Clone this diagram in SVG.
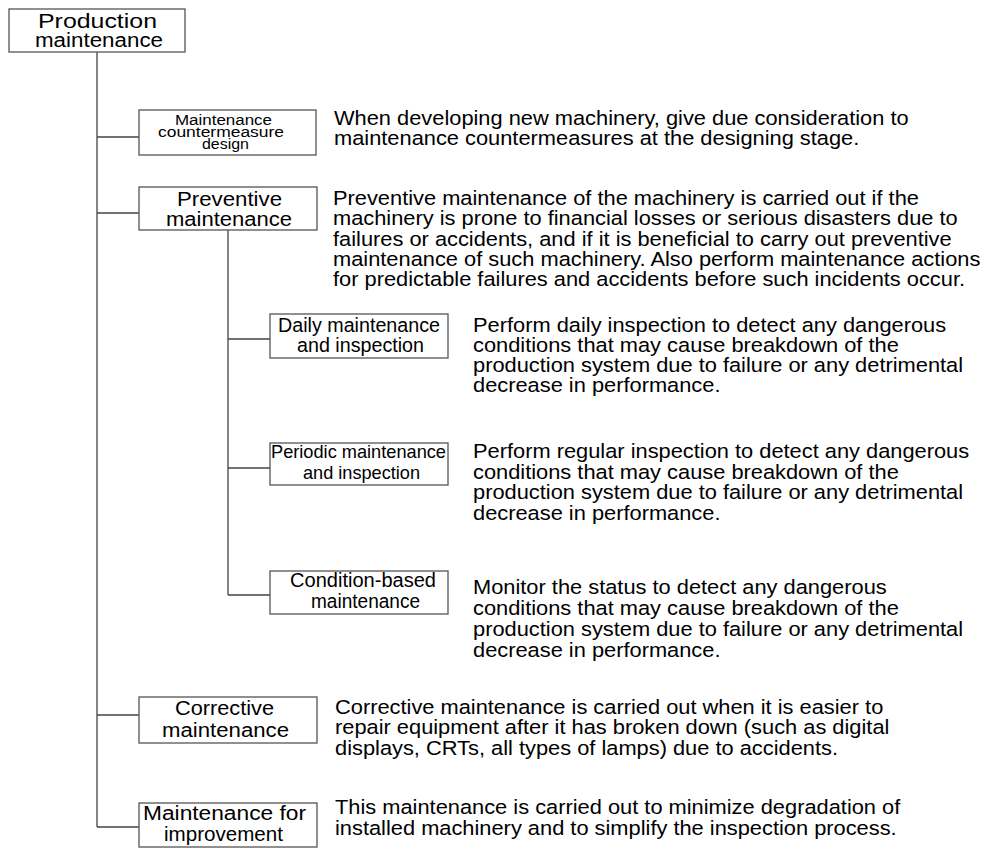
<svg xmlns="http://www.w3.org/2000/svg" width="992" height="852" viewBox="0 0 992 852">
<style>
.box{fill:#fff;stroke:#555;stroke-width:1.3}
.lbl{font-family:"Liberation Sans",Arial,sans-serif;fill:#000;text-anchor:middle}
.desc{font-family:"Liberation Sans",Arial,sans-serif;fill:#000;font-size:19.5px}
.con{fill:none;stroke:#444;stroke-width:1.3}
</style>
<rect width="992" height="852" fill="#fff"/>
<g id="connectors">
<path class="con" d="M97 52V827M97 137H139M97 213H139M97 715H139M97 827H139"/>
<path class="con" d="M228 230V595M228 339H270M228 468H270M228 595H270"/>
</g>
<g id="root">
<rect class="box" x="9" y="9" width="176" height="43"/>
<text class="lbl" font-size="20" x="97.5" y="28" textLength="119" lengthAdjust="spacingAndGlyphs">Production</text>
<text class="lbl" font-size="20" x="99" y="47" textLength="128" lengthAdjust="spacingAndGlyphs">maintenance</text>
</g>
<g id="countermeasure">
<rect class="box" x="139" y="110" width="177" height="45"/>
<text class="lbl" font-size="14" x="223.5" y="125" textLength="97" lengthAdjust="spacingAndGlyphs">Maintenance</text>
<text class="lbl" font-size="14" x="221" y="137" textLength="126" lengthAdjust="spacingAndGlyphs">countermeasure</text>
<text class="lbl" font-size="14" x="225.5" y="148.5" textLength="47" lengthAdjust="spacingAndGlyphs">design</text>
<text class="desc" transform="translate(334 0) scale(1.12 1)"><tspan x="0" y="125">When developing new machinery, give due consideration to</tspan><tspan x="0" y="145">maintenance countermeasures at the designing stage.</tspan></text>
</g>
<g id="preventive">
<rect class="box" x="139" y="187" width="178" height="43"/>
<text class="lbl" font-size="20" x="229.5" y="206" textLength="105" lengthAdjust="spacingAndGlyphs">Preventive</text>
<text class="lbl" font-size="20" x="229" y="226" textLength="126" lengthAdjust="spacingAndGlyphs">maintenance</text>
<text class="desc" transform="translate(333 0) scale(1.12 1)"><tspan x="0" y="205">Preventive maintenance of the machinery is carried out if the</tspan><tspan x="0" y="225.5">machinery is prone to financial losses or serious disasters due to</tspan><tspan x="0" y="246">failures or accidents, and if it is beneficial to carry out preventive</tspan><tspan x="0" y="266">maintenance of such machinery. Also perform maintenance actions</tspan><tspan x="0" y="286">for predictable failures and accidents before such incidents occur.</tspan></text>
</g>
<g id="daily">
<rect class="box" x="270" y="314" width="178" height="44"/>
<text class="lbl" font-size="20" x="359" y="332" textLength="162" lengthAdjust="spacingAndGlyphs">Daily maintenance</text>
<text class="lbl" font-size="20" x="360.5" y="352" textLength="127" lengthAdjust="spacingAndGlyphs">and inspection</text>
<text class="desc" transform="translate(473 0) scale(1.12 1)"><tspan x="0" y="332">Perform daily inspection to detect any dangerous</tspan><tspan x="0" y="352">conditions that may cause breakdown of the</tspan><tspan x="0" y="372">production system due to failure or any detrimental</tspan><tspan x="0" y="392">decrease in performance.</tspan></text>
</g>
<g id="periodic">
<rect class="box" x="270" y="443" width="178" height="42"/>
<text class="lbl" font-size="18.5" x="358.5" y="458" textLength="175" lengthAdjust="spacingAndGlyphs">Periodic maintenance</text>
<text class="lbl" font-size="18.5" x="361.5" y="479" textLength="117" lengthAdjust="spacingAndGlyphs">and inspection</text>
<text class="desc" transform="translate(473 0) scale(1.12 1)"><tspan x="0" y="458">Perform regular inspection to detect any dangerous</tspan><tspan x="0" y="479">conditions that may cause breakdown of the</tspan><tspan x="0" y="499">production system due to failure or any detrimental</tspan><tspan x="0" y="520">decrease in performance.</tspan></text>
</g>
<g id="condition">
<rect class="box" x="270" y="571" width="178" height="43"/>
<text class="lbl" font-size="20" x="363" y="587" textLength="146" lengthAdjust="spacingAndGlyphs">Condition-based</text>
<text class="lbl" font-size="20" x="365.5" y="608" textLength="109" lengthAdjust="spacingAndGlyphs">maintenance</text>
<text class="desc" transform="translate(473 0) scale(1.12 1)"><tspan x="0" y="594">Monitor the status to detect any dangerous</tspan><tspan x="0" y="615">conditions that may cause breakdown of the</tspan><tspan x="0" y="636">production system due to failure or any detrimental</tspan><tspan x="0" y="657">decrease in performance.</tspan></text>
</g>
<g id="corrective">
<rect class="box" x="139" y="697" width="178" height="46"/>
<text class="lbl" font-size="20" x="224.5" y="715" textLength="99" lengthAdjust="spacingAndGlyphs">Corrective</text>
<text class="lbl" font-size="20" x="225.5" y="737" textLength="127" lengthAdjust="spacingAndGlyphs">maintenance</text>
<text class="desc" transform="translate(335 0) scale(1.12 1)"><tspan x="0" y="714">Corrective maintenance is carried out when it is easier to</tspan><tspan x="0" y="734">repair equipment after it has broken down (such as digital</tspan><tspan x="0" y="755">displays, CRTs, all types of lamps) due to accidents.</tspan></text>
</g>
<g id="improvement">
<rect class="box" x="139" y="803" width="178" height="44"/>
<text class="lbl" font-size="20" x="224.5" y="820" textLength="163" lengthAdjust="spacingAndGlyphs">Maintenance for</text>
<text class="lbl" font-size="20" x="223.5" y="841" textLength="119" lengthAdjust="spacingAndGlyphs">improvement</text>
<text class="desc" transform="translate(335 0) scale(1.12 1)"><tspan x="0" y="814">This maintenance is carried out to minimize degradation of</tspan><tspan x="0" y="835">installed machinery and to simplify the inspection process.</tspan></text>
</g>
</svg>
